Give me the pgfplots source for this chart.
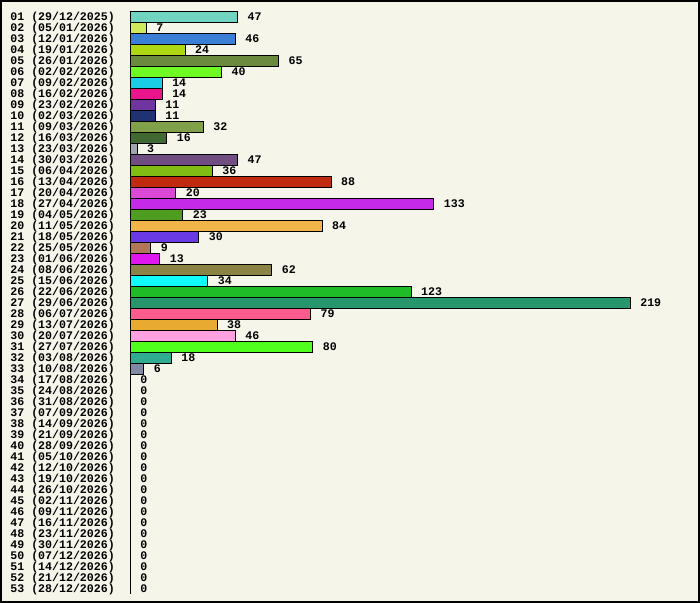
\documentclass[border=0pt]{standalone}
\usepackage{pgfplots}
\pgfplotsset{compat=1.18}
\usepackage{fontspec}
\setmainfont{Liberation Mono}
\definecolor{bgc}{HTML}{F5F5EA}
\definecolor{c1}{HTML}{70D4C0}
\definecolor{c2}{HTML}{D0EA5E}
\definecolor{c3}{HTML}{3A7ED6}
\definecolor{c4}{HTML}{AED814}
\definecolor{c5}{HTML}{6B8A3E}
\definecolor{c6}{HTML}{70FA24}
\definecolor{c7}{HTML}{1ACDE6}
\definecolor{c8}{HTML}{E8168A}
\definecolor{c9}{HTML}{7034A0}
\definecolor{c10}{HTML}{1E3274}
\definecolor{c11}{HTML}{80A04A}
\definecolor{c12}{HTML}{406A32}
\definecolor{c13}{HTML}{A0A4AC}
\definecolor{c14}{HTML}{704E82}
\definecolor{c15}{HTML}{80BC14}
\definecolor{c16}{HTML}{C02A10}
\definecolor{c17}{HTML}{DC48D6}
\definecolor{c18}{HTML}{C42AE8}
\definecolor{c19}{HTML}{4E9C20}
\definecolor{c20}{HTML}{F0B448}
\definecolor{c21}{HTML}{6A3AE6}
\definecolor{c22}{HTML}{B07858}
\definecolor{c23}{HTML}{E016F0}
\definecolor{c24}{HTML}{8C8446}
\definecolor{c25}{HTML}{10FCFC}
\definecolor{c26}{HTML}{20BC28}
\definecolor{c27}{HTML}{28966C}
\definecolor{c28}{HTML}{FF5C8E}
\definecolor{c29}{HTML}{E8AA30}
\definecolor{c30}{HTML}{FFA0E0}
\definecolor{c31}{HTML}{50FF1E}
\definecolor{c32}{HTML}{30AC90}
\definecolor{c33}{HTML}{8088A4}
\pgfplotsset{
  vb/.style={xbar, bar width=11bp, bar shift=0pt, draw=black, line width=1bp, fill=#1,
    point meta=x, nodes near coords,
    nodes near coords style={anchor=west, inner sep=0pt, xshift=9.5bp, text=black,
      font=\fontsize{11.6bp}{12bp}\selectfont\bfseries}},
}
\begin{document}
\begin{tikzpicture}
\path[use as bounding box] (0,0) rectangle (700bp,-603bp);
\fill[bgc] (0,0) rectangle (700bp,-603bp);
\draw[black, line width=1.5bp] (0.75bp,-0.75bp) rectangle (699bp,-602bp);
\begin{axis}[
  at={(130.3bp,-11.3bp)}, anchor=north west,
  scale only axis, width=500bp, height=583bp,
  xmin=0, xmax=219, ymin=0.5, ymax=53.5, y dir=reverse,
  clip=false,
  /pgf/number format/assume math mode=true,
  hide x axis,
  axis y line*=left,
  axis line style={black, line width=1bp},
  ytick={1,...,53},
  major tick length=0pt,
  yticklabel style={anchor=east, inner sep=0pt, xshift=-15.3bp,
     font=\fontsize{11.6bp}{12bp}\selectfont\bfseries, text height=7.6bp, text depth=0pt},
  yticklabels={
  {01 (29/12/2025)},{02 (05/01/2026)},{03 (12/01/2026)},{04 (19/01/2026)},{05 (26/01/2026)},
  {06 (02/02/2026)},{07 (09/02/2026)},{08 (16/02/2026)},{09 (23/02/2026)},{10 (02/03/2026)},
  {11 (09/03/2026)},{12 (16/03/2026)},{13 (23/03/2026)},{14 (30/03/2026)},{15 (06/04/2026)},
  {16 (13/04/2026)},{17 (20/04/2026)},{18 (27/04/2026)},{19 (04/05/2026)},{20 (11/05/2026)},
  {21 (18/05/2026)},{22 (25/05/2026)},{23 (01/06/2026)},{24 (08/06/2026)},{25 (15/06/2026)},
  {26 (22/06/2026)},{27 (29/06/2026)},{28 (06/07/2026)},{29 (13/07/2026)},{30 (20/07/2026)},
  {31 (27/07/2026)},{32 (03/08/2026)},{33 (10/08/2026)},{34 (17/08/2026)},{35 (24/08/2026)},
  {36 (31/08/2026)},{37 (07/09/2026)},{38 (14/09/2026)},{39 (21/09/2026)},{40 (28/09/2026)},
  {41 (05/10/2026)},{42 (12/10/2026)},{43 (19/10/2026)},{44 (26/10/2026)},{45 (02/11/2026)},
  {46 (09/11/2026)},{47 (16/11/2026)},{48 (23/11/2026)},{49 (30/11/2026)},{50 (07/12/2026)},
  {51 (14/12/2026)},{52 (21/12/2026)},{53 (28/12/2026)}},
]
\addplot[vb=c1] coordinates {(47,1)};
\addplot[vb=c2] coordinates {(7,2)};
\addplot[vb=c3] coordinates {(46,3)};
\addplot[vb=c4] coordinates {(24,4)};
\addplot[vb=c5] coordinates {(65,5)};
\addplot[vb=c6] coordinates {(40,6)};
\addplot[vb=c7] coordinates {(14,7)};
\addplot[vb=c8] coordinates {(14,8)};
\addplot[vb=c9] coordinates {(11,9)};
\addplot[vb=c10] coordinates {(11,10)};
\addplot[vb=c11] coordinates {(32,11)};
\addplot[vb=c12] coordinates {(16,12)};
\addplot[vb=c13] coordinates {(3,13)};
\addplot[vb=c14] coordinates {(47,14)};
\addplot[vb=c15] coordinates {(36,15)};
\addplot[vb=c16] coordinates {(88,16)};
\addplot[vb=c17] coordinates {(20,17)};
\addplot[vb=c18] coordinates {(133,18)};
\addplot[vb=c19] coordinates {(23,19)};
\addplot[vb=c20] coordinates {(84,20)};
\addplot[vb=c21] coordinates {(30,21)};
\addplot[vb=c22] coordinates {(9,22)};
\addplot[vb=c23] coordinates {(13,23)};
\addplot[vb=c24] coordinates {(62,24)};
\addplot[vb=c25] coordinates {(34,25)};
\addplot[vb=c26] coordinates {(123,26)};
\addplot[vb=c27] coordinates {(219,27)};
\addplot[vb=c28] coordinates {(79,28)};
\addplot[vb=c29] coordinates {(38,29)};
\addplot[vb=c30] coordinates {(46,30)};
\addplot[vb=c31] coordinates {(80,31)};
\addplot[vb=c32] coordinates {(18,32)};
\addplot[vb=c33] coordinates {(6,33)};
\addplot[vb=bgc, draw=none, fill=none] coordinates {
(0,34) (0,35) (0,36) (0,37) (0,38) (0,39) (0,40) (0,41) (0,42) (0,43)
(0,44) (0,45) (0,46) (0,47) (0,48) (0,49) (0,50) (0,51) (0,52) (0,53)};
\end{axis}
\end{tikzpicture}
\end{document}
